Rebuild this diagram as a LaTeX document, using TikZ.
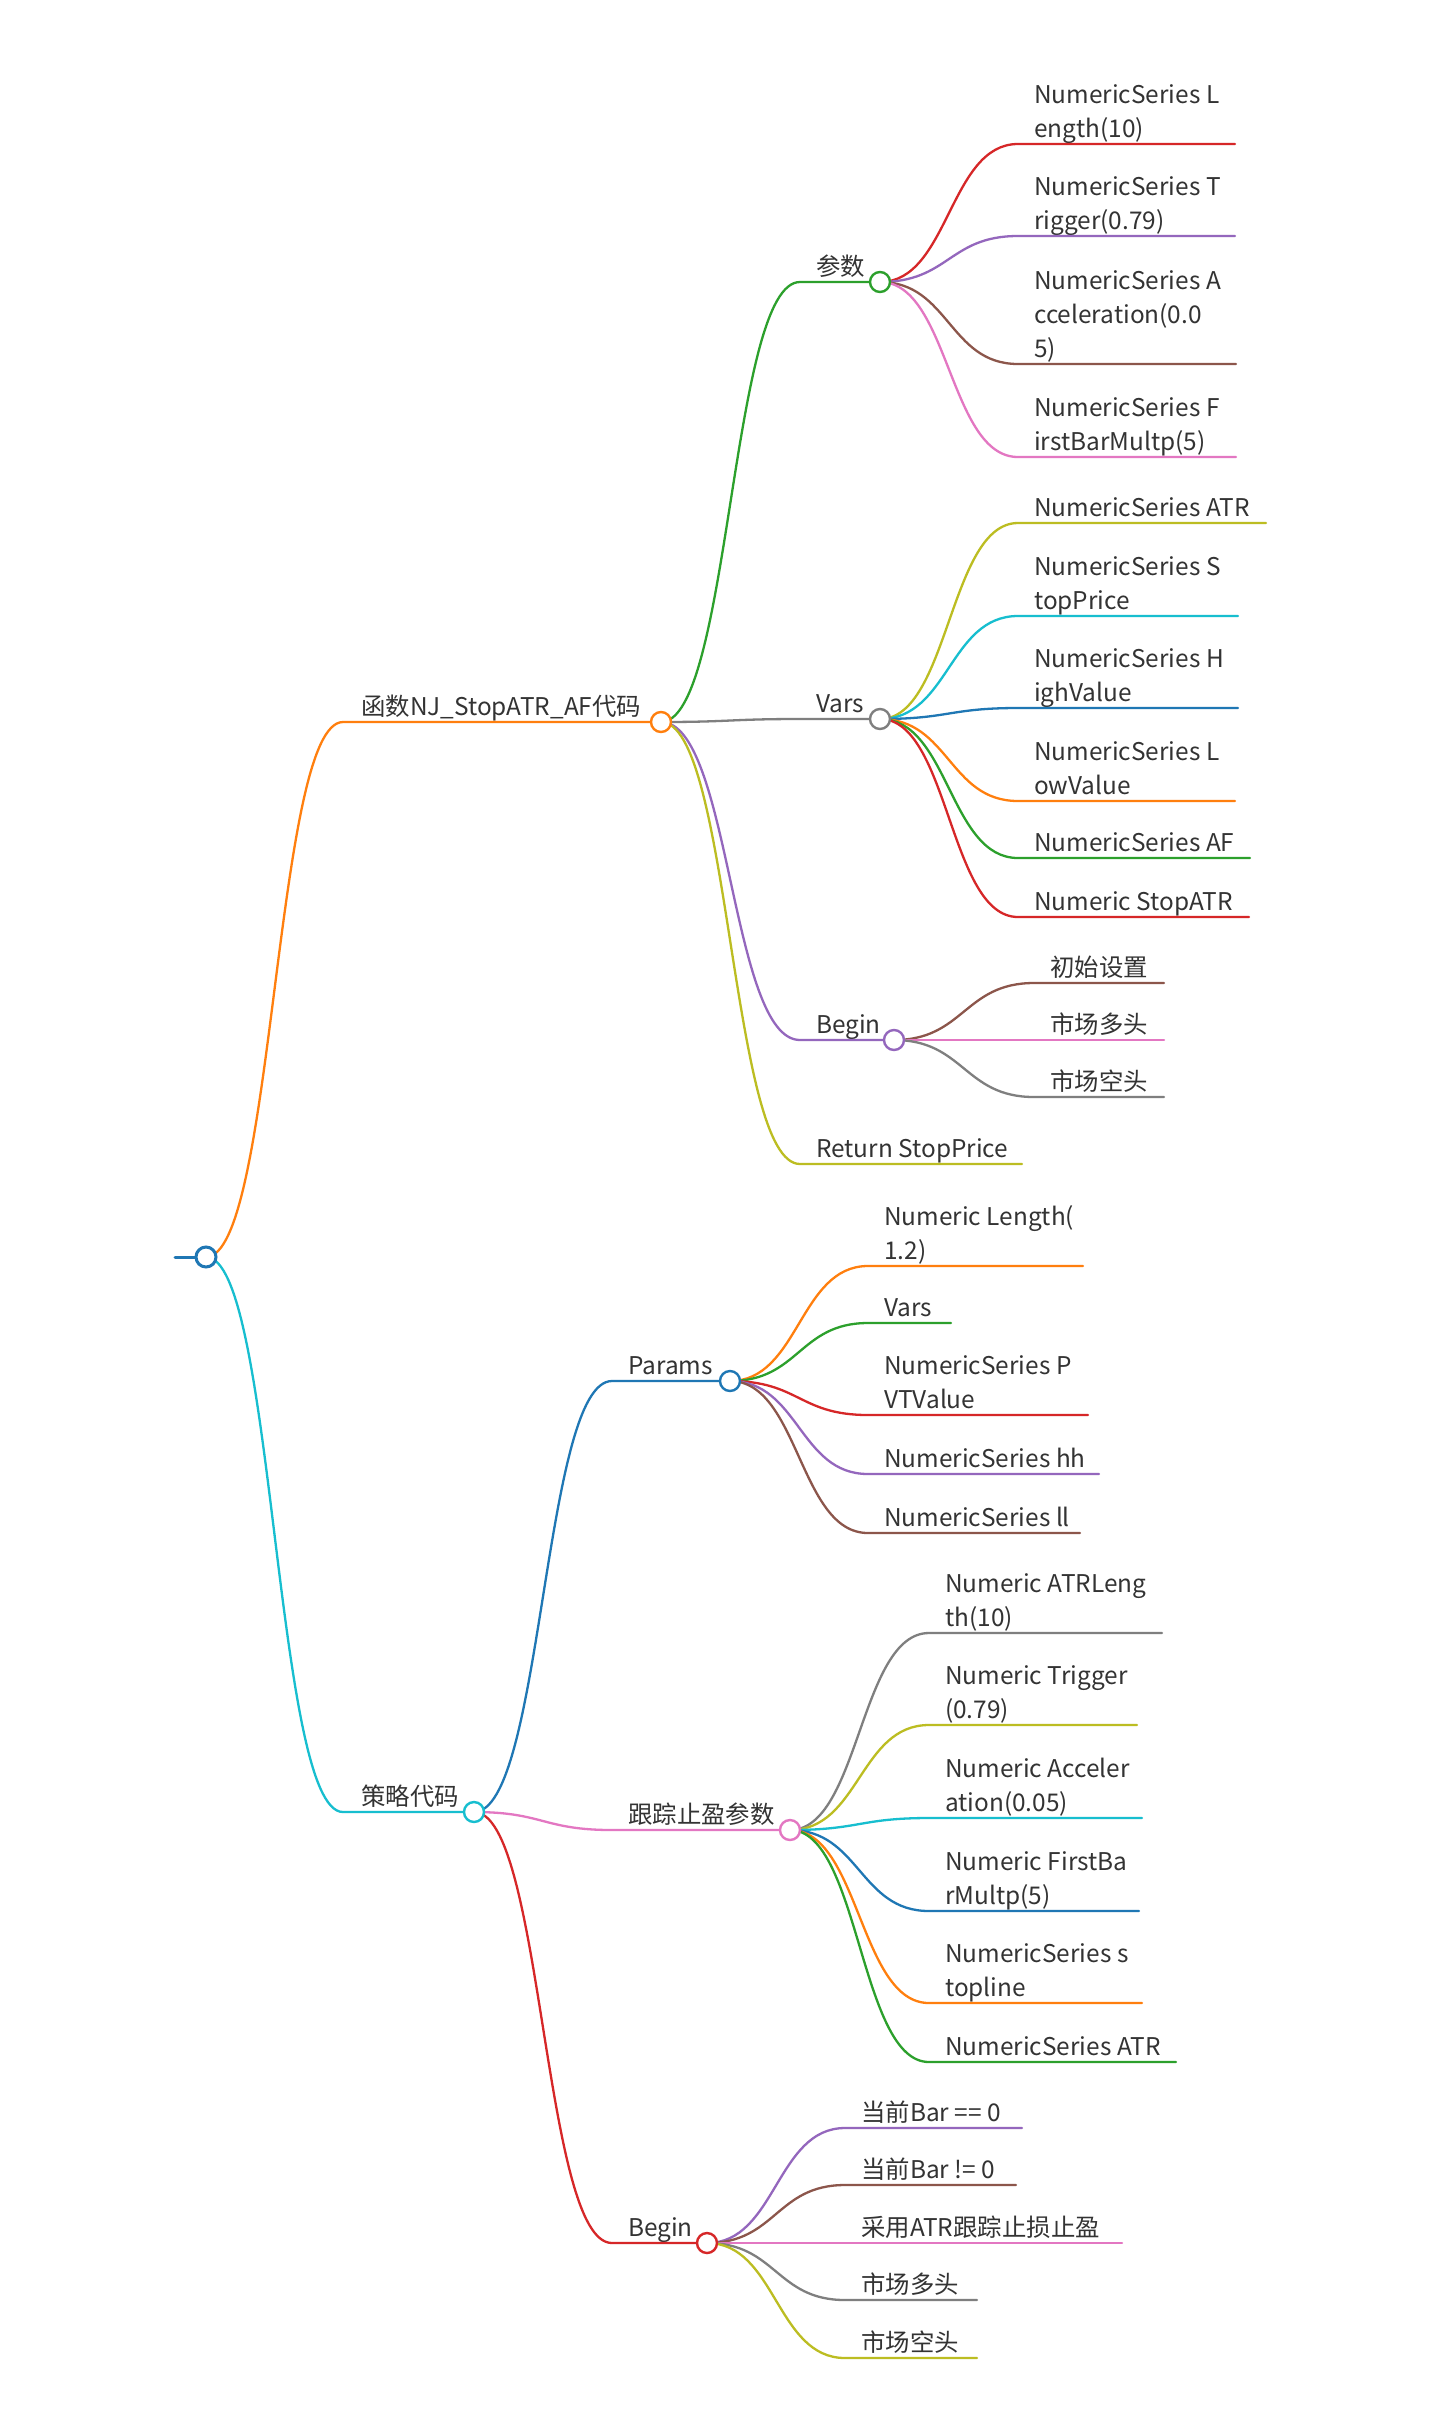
\documentclass[tikz,border=0pt]{standalone}
\usepackage{fontspec}
\setmainfont{Noto Sans CJK SC}
\usetikzlibrary{calc}
\definecolor{cblue}{HTML}{1F77B4}
\definecolor{corange}{HTML}{FF7F0E}
\definecolor{cgreen}{HTML}{2CA02C}
\definecolor{cred}{HTML}{D62728}
\definecolor{cpurple}{HTML}{9467BD}
\definecolor{cbrown}{HTML}{8C564B}
\definecolor{cpink}{HTML}{E377C2}
\definecolor{cgray}{HTML}{7F7F7F}
\definecolor{colive}{HTML}{BCBD22}
\definecolor{ccyan}{HTML}{17BECF}
\definecolor{txtc}{HTML}{333333}
\tikzset{
  link/.style={line width=2.3pt, line cap=round},
  dot/.style={circle, draw=#1, fill=white, line width=2.4pt, minimum size=20pt, inner sep=0pt},
  txt/.style={anchor=south west, inner sep=0pt, text depth=0pt, align=left,
    font=\fontsize{24.4}{34}\selectfont, text=txtc},
}
\newcommand\mmlink[3]{%
  \draw[link,#3] let \p1=(#1), \p2=(#2-s), \p3=($(\p1)!0.5!(\p2)$) in
    (\p1) .. controls (\x3,\y1) and (\x3,\y2) .. (\p2) -- (#2);}
\newcommand\mmitem[6]{% name, xstart, y, xend, xtext, text
  \coordinate (#1-s) at (#2,#3);
  \coordinate (#1) at (#4,#3);
  \node[txt] (#1-t) at (#5,#3-6) {#6};}
\begin{document}
\begin{tikzpicture}[x=1pt,y=-1pt]
\fill[white] (0,0) rectangle (1440,2421);
\useasboundingbox (0,0) rectangle (1440,2421);

% root
\coordinate (R-s) at (175,1257);
\coordinate (R) at (206,1257);
\draw[link,cblue,line width=3pt] (R-s) -- (R);

% level 1
\mmitem{A}{343}{722}{661}{361}{函数NJ\_StopATR\_AF代码}
\mmitem{B}{343}{1812}{474}{361}{策略代码}

% level 2 under A
\mmitem{P}{800}{282}{880}{816}{参数}
\mmitem{V}{800}{719}{880}{816}{Vars}
\mmitem{G}{800}{1040}{894}{816}{Begin}
\mmitem{Ret}{800}{1164}{1022}{816}{Return StopPrice}

% under 参数
\mmitem{p1}{1018}{144}{1235}{1034}{NumericSeries L\\ength(10)}
\mmitem{p2}{1018}{236}{1235}{1034}{NumericSeries T\\rigger(0.79)}
\mmitem{p3}{1018}{364}{1236}{1034}{NumericSeries A\\cceleration(0.0\\5)}
\mmitem{p4}{1018}{457}{1236}{1034}{NumericSeries F\\irstBarMultp(5)}

% under Vars
\mmitem{v1}{1018}{523}{1266}{1034}{NumericSeries ATR}
\mmitem{v2}{1018}{616}{1238}{1034}{NumericSeries S\\topPrice}
\mmitem{v3}{1018}{708}{1238}{1034}{NumericSeries H\\ighValue}
\mmitem{v4}{1018}{801}{1235}{1034}{NumericSeries L\\owValue}
\mmitem{v5}{1018}{858}{1250}{1034}{NumericSeries AF}
\mmitem{v6}{1018}{917}{1249}{1034}{Numeric StopATR}

% under Begin (A)
\mmitem{g1}{1034}{983}{1164}{1050}{初始设置}
\mmitem{g2}{1034}{1040}{1164}{1050}{市场多头}
\mmitem{g3}{1034}{1097}{1164}{1050}{市场空头}

% level 2 under B
\mmitem{Q}{612}{1381}{730}{628}{Params}
\mmitem{T}{612}{1830}{790}{628}{跟踪止盈参数}
\mmitem{H}{612}{2243}{707}{628}{Begin}

% under Params
\mmitem{q1}{868}{1266}{1083}{884}{Numeric Length(\\1.2)}
\mmitem{q2}{868}{1323}{951}{884}{Vars}
\mmitem{q3}{868}{1415}{1088}{884}{NumericSeries P\\VTValue}
\mmitem{q4}{868}{1474}{1099}{884}{NumericSeries hh}
\mmitem{q5}{868}{1533}{1080}{884}{NumericSeries ll}

% under 跟踪止盈参数
\mmitem{t1}{929}{1633}{1162}{945}{Numeric ATRLeng\\th(10)}
\mmitem{t2}{929}{1725}{1137}{945}{Numeric Trigger\\(0.79)}
\mmitem{t3}{929}{1818}{1142}{945}{Numeric Acceler\\ation(0.05)}
\mmitem{t4}{929}{1911}{1139}{945}{Numeric FirstBa\\rMultp(5)}
\mmitem{t5}{929}{2003}{1142}{945}{NumericSeries s\\topline}
\mmitem{t6}{929}{2062}{1176}{945}{NumericSeries ATR}

% under Begin (B)
\mmitem{h1}{845}{2128}{1022}{861}{当前Bar == 0}
\mmitem{h2}{845}{2185}{1016}{861}{当前Bar != 0}
\mmitem{h3}{845}{2243}{1122}{861}{采用ATR跟踪止损止盈}
\mmitem{h4}{845}{2300}{977}{861}{市场多头}
\mmitem{h5}{845}{2358}{977}{861}{市场空头}

% links
\mmlink{R}{A}{corange}
\mmlink{R}{B}{ccyan}
\mmlink{A}{P}{cgreen}
\mmlink{A}{V}{cgray}
\mmlink{A}{G}{cpurple}
\mmlink{A}{Ret}{colive}
\mmlink{P}{p1}{cred}
\mmlink{P}{p2}{cpurple}
\mmlink{P}{p3}{cbrown}
\mmlink{P}{p4}{cpink}
\mmlink{V}{v1}{colive}
\mmlink{V}{v2}{ccyan}
\mmlink{V}{v3}{cblue}
\mmlink{V}{v4}{corange}
\mmlink{V}{v5}{cgreen}
\mmlink{V}{v6}{cred}
\mmlink{G}{g1}{cbrown}
\mmlink{G}{g2}{cpink}
\mmlink{G}{g3}{cgray}
\mmlink{B}{Q}{cblue}
\mmlink{B}{T}{cpink}
\mmlink{B}{H}{cred}
\mmlink{Q}{q1}{corange}
\mmlink{Q}{q2}{cgreen}
\mmlink{Q}{q3}{cred}
\mmlink{Q}{q4}{cpurple}
\mmlink{Q}{q5}{cbrown}
\mmlink{T}{t1}{cgray}
\mmlink{T}{t2}{colive}
\mmlink{T}{t3}{ccyan}
\mmlink{T}{t4}{cblue}
\mmlink{T}{t5}{corange}
\mmlink{T}{t6}{cgreen}
\mmlink{H}{h1}{cpurple}
\mmlink{H}{h2}{cbrown}
\mmlink{H}{h3}{cpink}
\mmlink{H}{h4}{cgray}
\mmlink{H}{h5}{colive}

% circles
\node[dot=cblue,line width=3pt] (R-c) at (R) {};
\node[dot=corange] (A-c) at (A) {};
\node[dot=ccyan] (B-c) at (B) {};
\node[dot=cgreen] (P-c) at (P) {};
\node[dot=cgray] (V-c) at (V) {};
\node[dot=cpurple] (G-c) at (G) {};
\node[dot=cblue] (Q-c) at (Q) {};
\node[dot=cpink] (T-c) at (T) {};
\node[dot=cred] (H-c) at (H) {};
\end{tikzpicture}
\end{document}
